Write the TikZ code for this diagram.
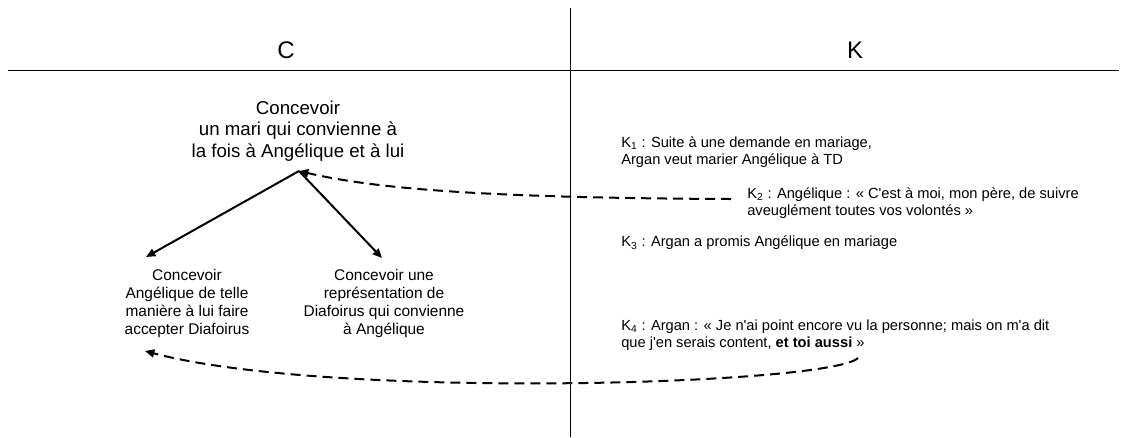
\documentclass[tikz,border=0pt]{standalone}
\usepackage{fontspec}
\setmainfont{Liberation Sans}
\usetikzlibrary{arrows.meta}
\begin{document}
\begin{tikzpicture}[x=0.75pt,y=-0.75pt,
  head/.style={font=\fontsize{18}{21}\selectfont},
  goal/.style={align=center,font=\fontsize{14}{16.1}\selectfont,inner sep=0pt},
  sub/.style={align=center,font=\fontsize{11.6}{13.5}\selectfont,inner sep=0pt},
  ktext/.style={align=left,anchor=west,font=\fontsize{11}{12.8}\selectfont,inner sep=0pt},
  solidarrow/.style={line width=1.5pt,-{Triangle[length=7pt,width=6pt]}},
  dasharrow/.style={line width=1.5pt,dash pattern=on 7.5pt off 4.5pt,-{Triangle[length=7pt,width=6pt]}},
  rule/.style={line width=0.75pt}]
\useasboundingbox (0,0) rectangle (1126,437);
\draw[rule] (570,8) -- (570,437);
\draw[rule] (8,70) -- (1119,70);
\node[head] (C) at (286,50) {C};
\node[head] (K) at (855,50) {K};
\node[goal] (top) at (298,131) {Concevoir\\un mari qui convienne à\\la fois à Angélique et à lui};
\node[sub] (L) at (187,303) {Concevoir\\Angélique de telle\\manière à lui faire\\accepter Diafoirus};
\node[sub] (R) at (384,303) {Concevoir une\\représentation de\\Diafoirus qui convienne\\à Angélique};
\node[ktext] (K1) at (621,152) {K\textsubscript{1} : Suite à une demande en mariage,\\Argan veut marier Angélique à TD};
\node[ktext] (K2) at (747,203) {K\textsubscript{2} : Angélique : « C\textquotesingle est à moi, mon père, de suivre\\aveuglément toutes vos volontés »};
\node[ktext] (K3) at (621,243) {K\textsubscript{3} : Argan a promis Angélique en mariage};
\node[ktext] (K4) at (621,335) {K\textsubscript{4} : Argan : « Je n\textquotesingle ai point encore vu la personne; mais on m\textquotesingle a dit\\que j\textquotesingle en serais content, \textbf{et toi aussi} »};
\coordinate (tp) at (299,171);
\coordinate (la) at (146,257);
\coordinate (ra) at (382,258);
\coordinate (k2s) at (731,199);
\coordinate (k4s) at (858,358);
\coordinate (le) at (145,351);
\draw[solidarrow] (tp) -- (la);
\draw[solidarrow] (tp) -- (ra);
\draw[dasharrow] (k2s) .. controls (500,198) and (380,190) .. (tp);
\draw[dasharrow] (k4s) .. controls (830,385) and (330,400) .. (le);
\end{tikzpicture}
\end{document}
